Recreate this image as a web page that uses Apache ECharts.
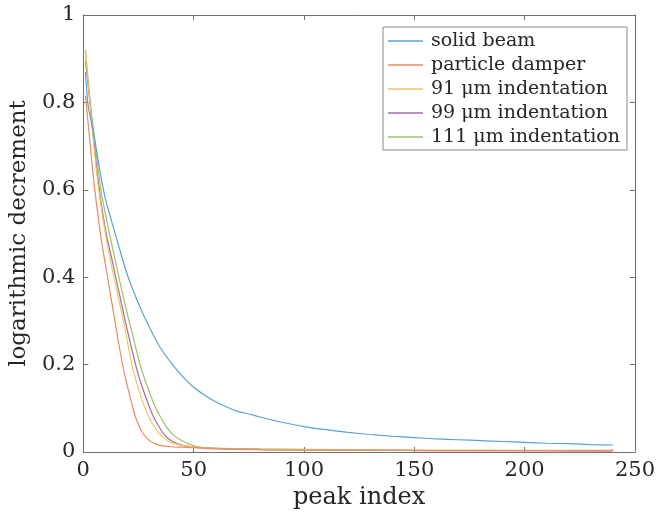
<!DOCTYPE html>
<html>
<head>
<meta charset="utf-8">
<script src="https://cdn.jsdelivr.net/npm/echarts@6/dist/echarts.min.js"></script>
<style>html,body{margin:0;padding:0;background:#fff}#c{width:658px;height:515px}</style>
</head>
<body>
<div id="c"></div>
<script>
var seriesNames = ['solid beam', 'particle damper', '91 \u03bcm indentation', '99 \u03bcm indentation', '111 \u03bcm indentation'];
var xTicks = [0, 50, 100, 150, 200, 250];
var yTicks = [0, 0.2, 0.4, 0.6, 0.8, 1];

var solidX = [1, 2, 3, 5, 8, 10, 15, 20, 25, 30, 35, 40, 45, 50, 55, 60, 65, 70, 75, 80, 90, 100, 110, 120, 130, 140, 150, 160, 170, 180, 190, 200, 210, 220, 230, 240];
var solidY = [0.87, 0.80, 0.77, 0.72, 0.63, 0.58, 0.49, 0.405, 0.34, 0.285, 0.238, 0.203, 0.173, 0.148, 0.13, 0.115, 0.103, 0.093, 0.087, 0.080, 0.068, 0.058, 0.051, 0.045, 0.040, 0.036, 0.033, 0.030, 0.028, 0.026, 0.024, 0.022, 0.020, 0.019, 0.017, 0.016];

var damperX = [1, 3, 5, 8, 10, 12, 14, 16, 18, 20, 22, 24, 27, 30, 33, 36, 40, 45, 50, 60, 80, 100, 130, 160, 200, 240];
var damperY = [0.815, 0.71, 0.61, 0.49, 0.43, 0.37, 0.31, 0.25, 0.195, 0.15, 0.11, 0.075, 0.043, 0.026, 0.018, 0.014, 0.012, 0.011, 0.010, 0.007, 0.005, 0.004, 0.004, 0.003, 0.003, 0.003];

var ind91X = [1, 3, 5, 7, 10, 13, 16, 19, 22, 25, 28, 31, 34, 37, 40, 45, 50, 60, 80, 100, 130, 160, 200, 240];
var ind91Y = [0.91, 0.80, 0.69, 0.60, 0.50, 0.42, 0.35, 0.28, 0.20, 0.145, 0.10, 0.068, 0.045, 0.03, 0.021, 0.015, 0.012, 0.008, 0.006, 0.005, 0.004, 0.004, 0.003, 0.003];

var ind99X = [1, 3, 5, 7, 10, 13, 16, 19, 22, 25, 28, 31, 34, 37, 40, 45, 50, 60, 80, 100, 130, 160, 200, 239, 240];
var ind99Y = [0.895, 0.80, 0.70, 0.61, 0.51, 0.44, 0.37, 0.30, 0.235, 0.175, 0.13, 0.09, 0.06, 0.038, 0.025, 0.015, 0.011, 0.008, 0.006, 0.005, 0.004, 0.003, 0.003, 0.002, 0.006];

var ind111X = [1, 3, 5, 8, 11, 14, 17, 20, 23, 26, 29, 32, 35, 38, 41, 44, 48, 52, 60, 80, 100, 130, 160, 200, 240];
var ind111Y = [0.92, 0.81, 0.72, 0.60, 0.52, 0.45, 0.38, 0.315, 0.255, 0.195, 0.15, 0.11, 0.08, 0.055, 0.038, 0.028, 0.018, 0.012, 0.009, 0.007, 0.006, 0.005, 0.004, 0.004, 0.004];

var colors = ['#57a3dc', '#ec8a60', '#f2c55c', '#a56ab2', '#9ac468'];

function pairs(xs, ys) { return xs.map(function (x, i) { return [x, ys[i]]; }); }
var allData = [pairs(solidX, solidY), pairs(damperX, damperY), pairs(ind91X, ind91Y), pairs(ind99X, ind99Y), pairs(ind111X, ind111Y)];

var font = 'DejaVu Serif';
var axisColor = '#707070';
var textColor = '#262626';

function mkAxis(extra) {
  var base = {
    type: 'value',
    axisLine: { show: true, onZero: false, lineStyle: { color: axisColor, width: 1 } },
    axisTick: { show: true, inside: true, length: 5, lineStyle: { color: axisColor } },
    splitLine: { show: false },
    axisLabel: { show: true, color: textColor, fontFamily: font, fontSize: 21, margin: 8 }
  };
  for (var k in extra) base[k] = extra[k];
  return base;
}

var chart = echarts.init(document.getElementById('c'), null, { renderer: 'canvas' });
chart.setOption({
  animation: false,
  backgroundColor: '#ffffff',
  color: colors,
  grid: { left: 83, right: 19, top: 15, bottom: 63, containLabel: false },
  xAxis: [
    mkAxis({ position: 'bottom', min: xTicks[0], max: xTicks[xTicks.length - 1], interval: 50,
      name: 'peak index', nameLocation: 'middle', nameGap: 33,
      nameTextStyle: { color: textColor, fontFamily: font, fontSize: 24 } }),
    mkAxis({ position: 'top', min: xTicks[0], max: xTicks[xTicks.length - 1], interval: 50,
      axisLabel: { show: false } })
  ],
  yAxis: [
    mkAxis({ position: 'left', min: yTicks[0], max: yTicks[yTicks.length - 1], interval: 0.2,
      name: 'logarithmic decrement', nameLocation: 'middle', nameGap: 41,
      nameTextStyle: { color: textColor, fontFamily: font, fontSize: 23 } }),
    mkAxis({ position: 'right', min: yTicks[0], max: yTicks[yTicks.length - 1], interval: 0.2,
      axisLabel: { show: false } })
  ],
  legend: {
    orient: 'vertical',
    left: 383, top: 27,
    padding: [4, 7, 3, 5],
    itemGap: 4,
    icon: 'rect',
    itemWidth: 35, itemHeight: 1.5,
    backgroundColor: '#ffffff',
    borderColor: '#8a8a8a', borderWidth: 1, borderRadius: 0,
    textStyle: { color: textColor, fontFamily: font, fontSize: 19, lineHeight: 20, padding: [0, 0, 0, 3] },
    data: seriesNames
  },
  series: seriesNames.map(function (n, i) {
    return {
      name: n, type: 'line', data: allData[i], symbol: 'none', smooth: 0.3,
      lineStyle: { width: 1.2, color: colors[i] }, itemStyle: { color: colors[i] },
      z: 5 - i
    };
  })
});
</script>
</body>
</html>
